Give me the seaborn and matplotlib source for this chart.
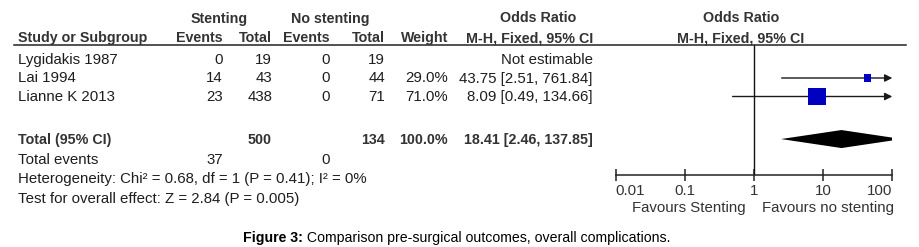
import numpy as np
import pandas as pd
import matplotlib
matplotlib.use("Agg")
import matplotlib.pyplot as plt
import seaborn as sns

# ---------------- data ----------------
studies = ["Lygidakis 1987", "Lai 1994", "Lianne K 2013"]
stent_events = [0, 14, 23]
stent_total = [19, 43, 438]
nostent_events = [0, 0, 0]
nostent_total = [19, 44, 71]
weights = [np.nan, 29.0, 71.0]
or_est = [np.nan, 43.75, 8.09]
ci_lo = [np.nan, 2.51, 0.49]
ci_hi = [np.nan, 761.84, 134.66]

total_stent = 500
total_nostent = 134
total_weight = 100.0
total_or = 18.41
total_lo = 2.46
total_hi = 137.85
total_events_stent = 37
total_events_nostent = 0

het_text = "Heterogeneity: Chi\u00b2 = 0.68, df = 1 (P = 0.41); I\u00b2 = 0%"
test_text = "Test for overall effect: Z = 2.84 (P = 0.005)"
xticks = [0.01, 0.1, 1, 10, 100]
xtick_labels = ["0.01", "0.1", "1", "10", "100"]
favours_left = "Favours Stenting"
favours_right = "Favours no stenting"
caption_bold = "Figure 3:"
caption_rest = " Comparison pre-surgical outcomes, overall complications."

# ---------------- layout ----------------
W, H = 920, 247
plt.rcParams["font.family"] = ["Liberation Sans", "DejaVu Sans"]
FS = 10.8      # regular text
FSB = 10.3     # bold text
FSC = 10.15    # caption
TXT = "#1e1e1e"
HDR = "#333333"

fig = plt.figure(figsize=(W / 100, H / 100), dpi=100)

def fx(x):
    return x / W

def fy(y):
    return 1 - y / H

def T(x, y, s, ha="left", bold=False, color=TXT):
    return fig.text(fx(x), fy(y), s, ha=ha, va="baseline",
                    fontsize=FSB if bold else FS,
                    fontweight="bold" if bold else "normal", color=color)

# row geometry (pixels from top)
row0 = 59.5
row_h = 18.5
total_row = 4.3
def row_px(r):
    return row0 + row_h * r

base = 4.5  # baseline offset below row centre

# header
T(219, 22.5, "Stenting", ha="center", bold=True, color=HDR)
T(330, 22.5, "No stenting", ha="center", bold=True, color=HDR)
T(538, 22.5, "Odds Ratio", ha="center", bold=True, color=HDR)
T(741, 22.5, "Odds Ratio", ha="center", bold=True, color=HDR)
T(18, 42, "Study or Subgroup", bold=True, color=HDR)
T(223, 42, "Events", ha="right", bold=True, color=HDR)
T(272, 42, "Total", ha="right", bold=True, color=HDR)
T(330, 42, "Events", ha="right", bold=True, color=HDR)
T(385, 42, "Total", ha="right", bold=True, color=HDR)
T(448, 42, "Weight", ha="right", bold=True, color=HDR)
T(593, 42, "M-H, Fixed, 95% CI", ha="right", bold=True, color=HDR)
T(741, 42, "M-H, Fixed, 95% CI", ha="center", bold=True, color=HDR)

# header rule
fig.add_artist(plt.Line2D([fx(14), fx(906)], [fy(45.5), fy(45.5)],
                          color="#222222", lw=1.1))

# study rows
for i, name in enumerate(studies):
    yb = row_px(i) + base
    T(18, yb, name)
    T(223, yb, f"{stent_events[i]}", ha="right")
    T(272, yb, f"{stent_total[i]}", ha="right")
    T(330, yb, f"{nostent_events[i]}", ha="right")
    T(385, yb, f"{nostent_total[i]}", ha="right")
    if np.isnan(weights[i]):
        T(593, yb, "Not estimable", ha="right")
    else:
        T(448, yb, f"{weights[i]:.1f}%", ha="right")
        T(593, yb, f"{or_est[i]:.2f} [{ci_lo[i]:.2f}, {ci_hi[i]:.2f}]", ha="right")

# total row
yb = row_px(total_row) + base
T(18, yb, "Total (95% CI)", bold=True, color=HDR)
T(272, yb, f"{total_stent}", ha="right", bold=True, color=HDR)
T(385, yb, f"{total_nostent}", ha="right", bold=True, color=HDR)
T(448, yb, f"{total_weight:.1f}%", ha="right", bold=True, color=HDR)
T(593, yb, f"{total_or:.2f} [{total_lo:.2f}, {total_hi:.2f}]", ha="right", bold=True, color=HDR)

T(18, 163.5, "Total events")
T(223, 163.5, f"{total_events_stent}", ha="right")
T(330, 163.5, f"{total_events_nostent}", ha="right")
T(18, 183.5, het_text)
T(18, 203.5, test_text)

# caption
cap1 = fig.text(fx(243), fy(241.5), caption_bold, ha="left", va="baseline",
                fontsize=FSC, fontweight="bold", color="#000000")
fig.canvas.draw()
bb = cap1.get_window_extent()
fig.text(bb.x1 / W, fy(241.5), caption_rest, ha="left", va="baseline",
         fontsize=FSC, color="#000000")

# ---------------- forest axes ----------------
ax_left, ax_right, ax_top, ax_bottom = 615.7, 892.3, 45.5, 175.0
ax = fig.add_axes([fx(ax_left), fy(ax_bottom), (ax_right - ax_left) / W,
                   (ax_bottom - ax_top) / H])
ax.set_xscale("log")
ax.set_xlim(xticks[0], xticks[-1])
ax.set_ylim((ax_bottom - row0) / row_h, (ax_top - row0) / row_h)
ax.patch.set_alpha(0)

df = pd.DataFrame({"study": studies, "or": or_est, "lo": ci_lo, "hi": ci_hi,
                   "weight": weights, "row": np.arange(len(studies), dtype=float)})
dfv = df.dropna()
xmax = xticks[-1]

line_col = "#1a1a1a"
for _, r in dfv.iterrows():
    if r["hi"] > xmax:
        ax.annotate("", xy=(xmax, r["row"]), xytext=(r["lo"], r["row"]),
                    arrowprops=dict(arrowstyle="-|>", color=line_col, lw=1,
                                    mutation_scale=11, shrinkA=0, shrinkB=0),
                    zorder=2)
    else:
        ax.hlines(r["row"], r["lo"], r["hi"], color=line_col, lw=1)

k = 0.18  # marker side (pt) per % weight
sizes = {w: (w * k) ** 2 for w in dfv["weight"]}
sns.scatterplot(data=dfv, x="or", y="row", size="weight", sizes=sizes,
                marker="s", color="#0000c0", linewidth=0, legend=False,
                ax=ax, zorder=3)

# diamond for total
dh = 9.0 / row_h
ax.fill([total_lo, total_or, total_hi, total_or],
        [total_row, total_row - dh, total_row, total_row + dh],
        color="#000000", lw=0, zorder=3)

ax.axvline(1, color="#111111", lw=1)

for s in ["top", "left", "right"]:
    ax.spines[s].set_visible(False)
ax.spines["bottom"].set_color("#222222")
ax.spines["bottom"].set_linewidth(1.1)
ax.set_xticks(xticks)
ax.set_xticklabels(xtick_labels)
ax.minorticks_off()
ax.tick_params(axis="x", direction="inout", length=9, width=1.1,
               color="#222222", labelcolor="#333333", labelsize=FS, pad=2)
tl = ax.get_xticklabels()
tl[0].set_ha("left")
tl[-1].set_ha("right")
ax.set_yticks([])
ax.set_xlabel("")
ax.set_ylabel("")

fig.text(fx(746), fy(212), favours_left, ha="right", va="baseline",
         fontsize=FS, color="#333333")
fig.text(fx(762), fy(212), favours_right, ha="left", va="baseline",
         fontsize=FS, color="#333333")

fig.savefig("out.png", dpi=100)
